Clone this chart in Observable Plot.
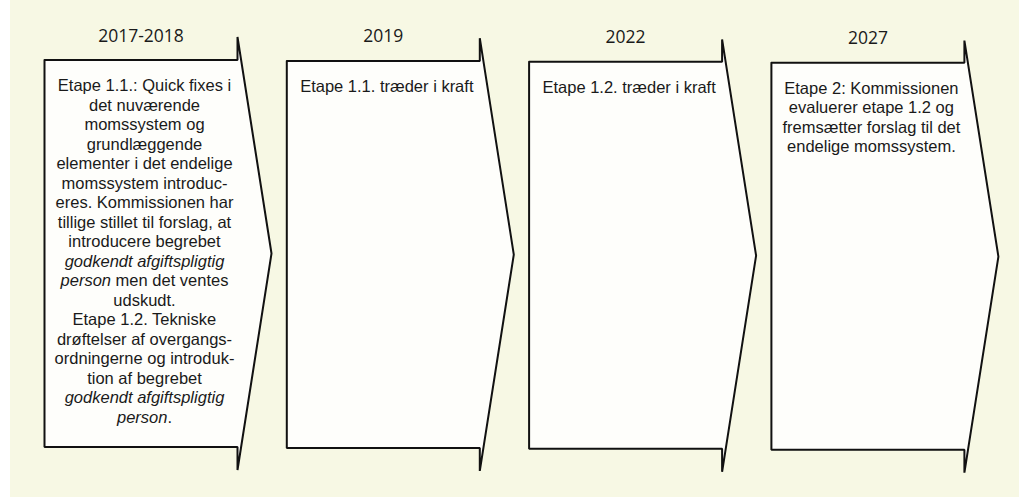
<!DOCTYPE html>
<html><head><meta charset="utf-8">
<script src="https://cdn.jsdelivr.net/npm/d3@7"></script>
<script src="https://cdn.jsdelivr.net/npm/@observablehq/plot@0.6"></script>
<style>
html,body{margin:0;padding:0;background:#ffffff;}
#chart{position:absolute;left:0;top:0;width:1019px;height:497px;}
#chart svg{background:linear-gradient(to right,#ffffff 10px,#f7f8e4 10px);}
</style></head><body><div id="chart"></div>
<script>
// ---- data ----
const years = ["2017-2018", "2019", "2022", "2027"];
// *...* marks italic words
const stage1Lines = [
  "Etape 1.1.: Quick fixes i",
  "det nuværende",
  "momssystem og",
  "grundlæggende",
  "elementer i det endelige",
  "momssystem introduc-",
  "eres. Kommissionen har",
  "tillige stillet til forslag, at",
  "introducere begrebet",
  "*godkendt afgiftspligtig*",
  "*person* men det ventes",
  "udskudt.",
  "Etape 1.2. Tekniske",
  "drøftelser af overgangs-",
  "ordningerne og introduk-",
  "tion af begrebet",
  "*godkendt afgiftspligtig*",
  "*person*."
];
const stage2Lines = ["Etape 1.1. træder i kraft"];
const stage3Lines = ["Etape 1.2. træder i kraft"];
const stage4Lines = [
  "Etape 2: Kommissionen",
  "evaluerer etape 1.2 og",
  "fremsætter forslag til det",
  "endelige momssystem."
];
const stageTexts = [stage1Lines, stage2Lines, stage3Lines, stage4Lines];

// ---- layout ----
const W = 1019, H = 497;
const x0 = 44, step = 242.3, bodyW = 193, tipW = 34;
const bodyFont = "16.5px 'Liberation Sans', Arial, sans-serif";
const yearFont = "'Open Sans', sans-serif";
const lineH = 19.5;

// polygons
const shapePts = [];
years.forEach((yr, i) => {
  const L = x0 + step * i, R = L + bodyW, P = R + tipW;
  const top = 59.5 + 0.9 * i, tipTop = 36.5 + 1.2 * i;
  const bot = 446.5 + 0.9 * i, tipBot = 469.5 + 0.9 * i;
  const mid = (tipTop + tipBot) / 2;
  [[L, top], [R, top], [R, tipTop], [P, mid], [R, tipBot], [R, bot], [L, bot], [L, top]]
    .forEach(([x, y]) => shapePts.push({stage: yr, x, y}));
});

const yearLabels = years.map((yr, i) => ({text: yr, x: x0 + step * i + 96.5, y: 35.5 + 0.8 * i}));

// measure text widths
const ctx = document.createElement("canvas").getContext("2d");
function measure(s, italic) {
  ctx.font = (italic ? "italic " : "") + bodyFont;
  return ctx.measureText(s).width;
}
const segs = [];
stageTexts.forEach((lines, i) => {
  const cx = x0 + step * i + 100;
  lines.forEach((line, j) => {
    const parts = line.split("*");
    const pieces = [];
    parts.forEach((p, k) => { if (p.length) pieces.push({t: p, it: k % 2 === 1}); });
    const total = d3.sum(pieces, p => measure(p.t, p.it));
    let px = cx - total / 2;
    const y = 85.5 + j * lineH + 0.8 * i;
    pieces.forEach(p => {
      const lead = p.t.length - p.t.trimStart().length;
      const offs = lead ? measure(p.t.slice(0, lead), p.it) : 0;
      segs.push({text: p.t.trim(), x: px + offs, y, italic: p.it});
      px += measure(p.t, p.it);
    });
  });
});

const chart = Plot.plot({
  width: W, height: H,
  margin: 0,
  x: {domain: [0, W], range: [0, W], axis: null},
  y: {domain: [0, H], range: [0, H], axis: null},
  marks: [
    Plot.line(shapePts, {x: "x", y: "y", z: "stage", fill: "#fefefb", stroke: "#111111",
      strokeWidth: 2, curve: "linear", strokeLinejoin: "miter"}),
    Plot.text(yearLabels, {x: "x", y: "y", text: "text", fontSize: 17.5,
      fontFamily: yearFont, fill: "#1a1a1a"}),
    Plot.text(segs.filter(d => !d.italic), {x: "x", y: "y", text: "text", textAnchor: "start",
      fontSize: 16.5, fontFamily: "'Liberation Sans', Arial, sans-serif", fill: "#1a1a1a"}),
    Plot.text(segs.filter(d => d.italic), {x: "x", y: "y", text: "text", textAnchor: "start",
      fontSize: 16.5, fontStyle: "italic", fontFamily: "'Liberation Sans', Arial, sans-serif", fill: "#1a1a1a"})
  ]
});
document.getElementById("chart").appendChild(chart);
</script>
</body></html>
